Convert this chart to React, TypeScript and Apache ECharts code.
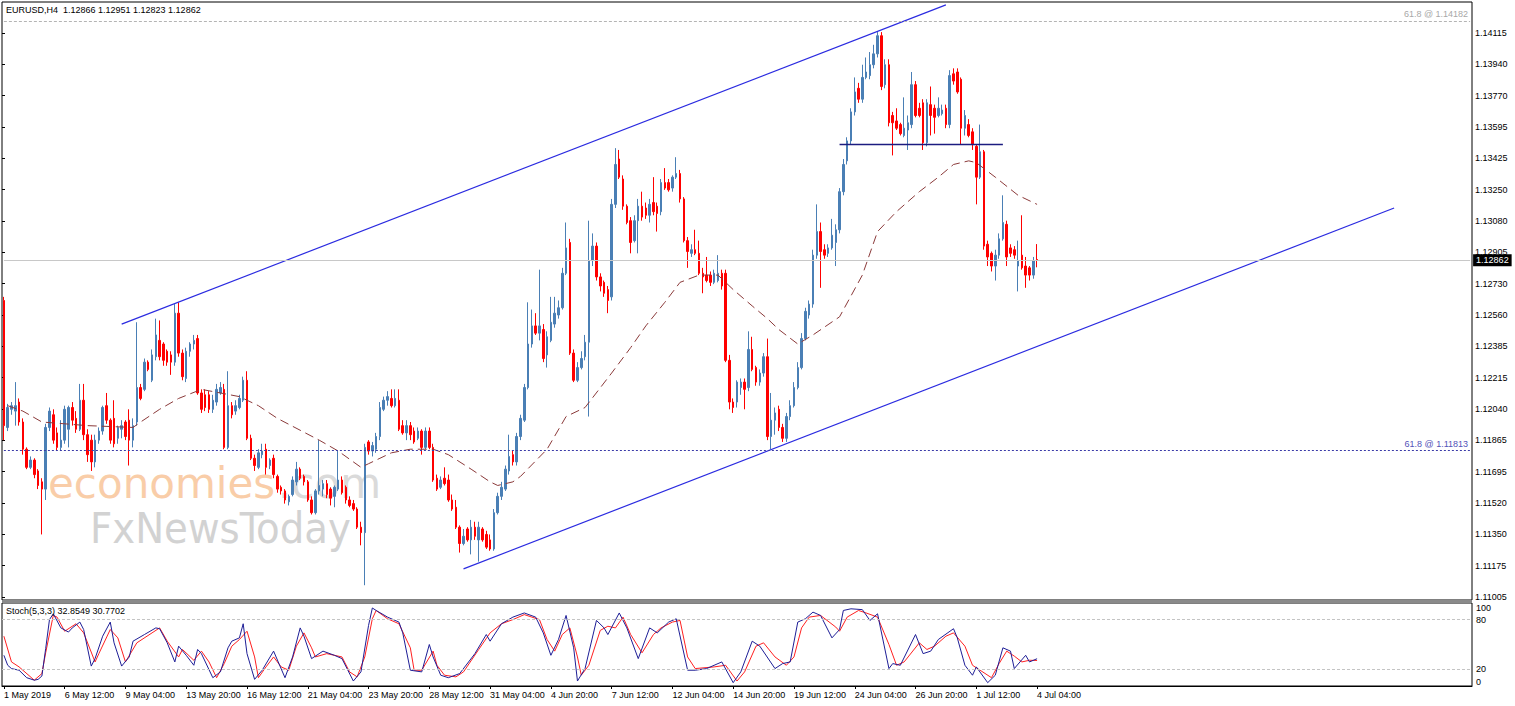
import React, { useEffect, useRef } from 'react';
import * as echarts from 'echarts';

// ---------- DATA ----------
// H4 candles, 1 May 2019 20:00 .. 4 Jul 2019 04:00 : [open, close, low, high]
const BARS: number[][] = [
  [1.1264,1.1195,1.1187,1.1266],[1.1194,1.1205,1.1192,1.1207],[1.1204,1.1206,1.1201,1.1208],[1.1203,1.1206,1.1195,1.1219],
  [1.1208,1.1197,1.1195,1.1210],[1.1197,1.1182,1.1179,1.1199],[1.1182,1.1172,1.1171,1.1183],[1.1172,1.1176,1.1171,1.1178],
  [1.1176,1.1168,1.1166,1.1177],[1.1170,1.1162,1.1160,1.1171],[1.1164,1.1160,1.1135,1.1166],[1.1160,1.1194,1.1154,1.1196],
  [1.1194,1.1203,1.1192,1.1205],[1.1201,1.1187,1.1185,1.1204],[1.1191,1.1183,1.1181,1.1194],[1.1183,1.1187,1.1181,1.1198],
  [1.1187,1.1204,1.1185,1.1206],[1.1193,1.1205,1.1183,1.1206],[1.1205,1.1198,1.1195,1.1208],[1.1199,1.1193,1.1191,1.1203],
  [1.1193,1.1209,1.1192,1.1218],[1.1209,1.1190,1.1187,1.1218],[1.1190,1.1179,1.1175,1.1193],[1.1187,1.1175,1.1170,1.1190],
  [1.1175,1.1187,1.1172,1.1190],[1.1187,1.1192,1.1185,1.1194],[1.1192,1.1205,1.1190,1.1206],[1.1206,1.1198,1.1196,1.1213],
  [1.1198,1.1187,1.1185,1.1199],[1.1199,1.1185,1.1183,1.1209],[1.1188,1.1194,1.1185,1.1195],[1.1193,1.1195,1.1188,1.1198],
  [1.1197,1.1189,1.1187,1.1198],[1.1198,1.1187,1.1173,1.1204],[1.1187,1.1195,1.1183,1.1199],[1.1197,1.1216,1.1195,1.1252],
  [1.1216,1.1210,1.1209,1.1218],[1.1215,1.1230,1.1214,1.1232],[1.1230,1.1226,1.1225,1.1231],[1.1220,1.1234,1.1219,1.1237],
  [1.1233,1.1245,1.1231,1.1254],[1.1242,1.1233,1.1231,1.1253],[1.1240,1.1231,1.1228,1.1241],[1.1236,1.1230,1.1228,1.1237],
  [1.1234,1.1230,1.1223,1.1236],[1.1230,1.1257,1.1228,1.1262],[1.1257,1.1235,1.1233,1.1263],[1.1235,1.1222,1.1220,1.1237],
  [1.1221,1.1236,1.1219,1.1238],[1.1236,1.1240,1.1233,1.1241],[1.1240,1.1242,1.1237,1.1245],[1.1243,1.1213,1.1212,1.1245],
  [1.1213,1.1204,1.1202,1.1215],[1.1212,1.1205,1.1203,1.1215],[1.1212,1.1204,1.1202,1.1214],[1.1204,1.1209,1.1202,1.1212],
  [1.1208,1.1215,1.1206,1.1218],[1.1213,1.1216,1.1212,1.1219],[1.1215,1.1183,1.1182,1.1218],[1.1183,1.1206,1.1182,1.1225],
  [1.1206,1.1201,1.1199,1.1208],[1.1203,1.1206,1.1201,1.1209],[1.1205,1.1210,1.1204,1.1212],[1.1209,1.1220,1.1208,1.1222],
  [1.1220,1.1188,1.1187,1.1225],[1.1188,1.1177,1.1176,1.1190],[1.1177,1.1173,1.1170,1.1179],[1.1172,1.1180,1.1171,1.1182],
  [1.1179,1.1181,1.1177,1.1185],[1.1182,1.1172,1.1168,1.1185],[1.1173,1.1176,1.1171,1.1177],[1.1177,1.1168,1.1166,1.1179],
  [1.1167,1.1160,1.1158,1.1168],[1.1161,1.1159,1.1157,1.1162],[1.1159,1.1154,1.1152,1.1160],[1.1153,1.1156,1.1151,1.1157],
  [1.1157,1.1165,1.1156,1.1167],[1.1164,1.1171,1.1162,1.1175],[1.1171,1.1166,1.1165,1.1172],[1.1167,1.1164,1.1162,1.1168],
  [1.1164,1.1154,1.1153,1.1165],[1.1154,1.1147,1.1146,1.1156],[1.1147,1.1159,1.1146,1.1160],[1.1159,1.1162,1.1157,1.1187],
  [1.1160,1.1163,1.1156,1.1165],[1.1163,1.1157,1.1155,1.1165],[1.1160,1.1155,1.1151,1.1161],[1.1156,1.1161,1.1150,1.1162],
  [1.1160,1.1165,1.1159,1.1181],[1.1165,1.1158,1.1157,1.1167],[1.1161,1.1154,1.1152,1.1162],[1.1154,1.1151,1.1150,1.1156],
  [1.1152,1.1149,1.1148,1.1154],[1.1149,1.1139,1.1138,1.1150],[1.1139,1.1136,1.1129,1.1142],[1.1136,1.1183,1.1107,1.1185],
  [1.1186,1.1181,1.1179,1.1187],[1.1181,1.1184,1.1178,1.1186],[1.1182,1.1189,1.1180,1.1191],[1.1189,1.1205,1.1187,1.1208],
  [1.1204,1.1209,1.1203,1.1211],[1.1209,1.1211,1.1206,1.1214],[1.1210,1.1206,1.1205,1.1215],[1.1206,1.1210,1.1205,1.1215],
  [1.1209,1.1193,1.1192,1.1215],[1.1195,1.1191,1.1190,1.1198],[1.1191,1.1195,1.1187,1.1198],[1.1195,1.1190,1.1187,1.1197],
  [1.1192,1.1186,1.1185,1.1194],[1.1188,1.1192,1.1187,1.1194],[1.1192,1.1183,1.1179,1.1193],[1.1183,1.1192,1.1182,1.1194],
  [1.1192,1.1183,1.1182,1.1194],[1.1183,1.1165,1.1164,1.1185],[1.1166,1.1160,1.1159,1.1168],[1.1161,1.1165,1.1160,1.1167],
  [1.1166,1.1163,1.1162,1.1172],[1.1165,1.1154,1.1153,1.1168],[1.1154,1.1149,1.1148,1.1157],[1.1150,1.1139,1.1138,1.1154],
  [1.1139,1.1130,1.1125,1.1140],[1.1130,1.1134,1.1129,1.1138],[1.1138,1.1132,1.1131,1.1139],[1.1132,1.1139,1.1124,1.1143],
  [1.1139,1.1134,1.1132,1.1142],[1.1132,1.1139,1.1120,1.1142],[1.1138,1.1132,1.1131,1.1139],[1.1135,1.1128,1.1127,1.1137],
  [1.1132,1.1127,1.1126,1.1135],[1.1127,1.1147,1.1126,1.1149],[1.1147,1.1156,1.1146,1.1158],[1.1156,1.1161,1.1154,1.1164],
  [1.1160,1.1171,1.1159,1.1173],[1.1170,1.1178,1.1168,1.1190],[1.1179,1.1175,1.1173,1.1181],[1.1175,1.1189,1.1173,1.1191],
  [1.1189,1.1199,1.1187,1.1201],[1.1198,1.1216,1.1197,1.1218],[1.1216,1.1240,1.1215,1.1263],[1.1240,1.1250,1.1238,1.1259],
  [1.1250,1.1246,1.1245,1.1257],[1.1246,1.1250,1.1242,1.1281],[1.1248,1.1232,1.1230,1.1251],[1.1234,1.1244,1.1227,1.1247],
  [1.1242,1.1252,1.1241,1.1266],[1.1251,1.1257,1.1249,1.1266],[1.1256,1.1260,1.1254,1.1264],[1.1260,1.1279,1.1259,1.1282],
  [1.1279,1.1293,1.1278,1.1307],[1.1296,1.1235,1.1234,1.1298],[1.1235,1.1220,1.1219,1.1237],[1.1220,1.1227,1.1219,1.1230],
  [1.1227,1.1232,1.1226,1.1236],[1.1233,1.1241,1.1231,1.1245],[1.1241,1.1286,1.1200,1.1308],[1.1286,1.1294,1.1283,1.1301],
  [1.1294,1.1277,1.1275,1.1296],[1.1277,1.1272,1.1269,1.1279],[1.1274,1.1268,1.1266,1.1275],[1.1270,1.1264,1.1257,1.1272],
  [1.1266,1.1317,1.1264,1.1320],[1.1317,1.1339,1.1315,1.1348],[1.1342,1.1332,1.1331,1.1347],[1.1331,1.1316,1.1314,1.1333],
  [1.1316,1.1307,1.1306,1.1317],[1.1308,1.1296,1.1290,1.1310],[1.1297,1.1308,1.1296,1.1311],[1.1308,1.1316,1.1290,1.1320],
  [1.1316,1.1310,1.1308,1.1324],[1.1315,1.1311,1.1309,1.1318],[1.1311,1.1317,1.1307,1.1320],[1.1318,1.1313,1.1311,1.1332],
  [1.1316,1.1312,1.1302,1.1318],[1.1313,1.1329,1.1311,1.1331],[1.1329,1.1326,1.1325,1.1337],[1.1329,1.1325,1.1324,1.1331],
  [1.1326,1.1332,1.1324,1.1333],[1.1332,1.1334,1.1331,1.1343],[1.1334,1.1320,1.1318,1.1336],[1.1320,1.1297,1.1296,1.1321],
  [1.1297,1.1291,1.1282,1.1299],[1.1290,1.1292,1.1288,1.1295],[1.1292,1.1290,1.1289,1.1303],[1.1290,1.1279,1.1278,1.1297],
  [1.1279,1.1277,1.1268,1.1282],[1.1278,1.1275,1.1274,1.1288],[1.1278,1.1274,1.1272,1.1280],[1.1274,1.1279,1.1273,1.1281],
  [1.1275,1.1279,1.1274,1.1289],[1.1279,1.1272,1.1270,1.1281],[1.1279,1.1231,1.1230,1.1281],[1.1231,1.1208,1.1204,1.1234],
  [1.1208,1.1205,1.1202,1.1210],[1.1208,1.1219,1.1205,1.1220],[1.1216,1.1219,1.1212,1.1221],[1.1219,1.1215,1.1204,1.1221],
  [1.1216,1.1237,1.1214,1.1247],[1.1237,1.1226,1.1225,1.1244],[1.1227,1.1219,1.1217,1.1228],[1.1219,1.1224,1.1217,1.1226],
  [1.1224,1.1233,1.1222,1.1235],[1.1233,1.1189,1.1187,1.1243],[1.1189,1.1198,1.1182,1.1213],[1.1198,1.1202,1.1190,1.1205],
  [1.1204,1.1194,1.1192,1.1206],[1.1194,1.1188,1.1186,1.1196],[1.1188,1.1200,1.1186,1.1202],[1.1200,1.1206,1.1198,1.1209],
  [1.1206,1.1216,1.1205,1.1219],[1.1216,1.1227,1.1215,1.1230],[1.1227,1.1243,1.1226,1.1246],[1.1243,1.1258,1.1242,1.1260],
  [1.1256,1.1262,1.1254,1.1264],[1.1262,1.1289,1.1260,1.1292],[1.1289,1.1302,1.1287,1.1317],[1.1302,1.1291,1.1271,1.1307],
  [1.1292,1.1289,1.1287,1.1295],[1.1290,1.1293,1.1288,1.1295],[1.1293,1.1300,1.1292,1.1309],[1.1296,1.1303,1.1283,1.1306],
  [1.1303,1.1324,1.1301,1.1326],[1.1324,1.1339,1.1322,1.1342],[1.1341,1.1352,1.1339,1.1354],[1.1352,1.1368,1.1350,1.1370],
  [1.1368,1.1379,1.1366,1.1387],[1.1381,1.1375,1.1373,1.1384],[1.1375,1.1387,1.1373,1.1394],[1.1387,1.1390,1.1386,1.1398],
  [1.1388,1.1394,1.1386,1.1401],[1.1394,1.1400,1.1392,1.1405],[1.1400,1.1410,1.1398,1.1412],[1.1410,1.1382,1.1380,1.1412],
  [1.1383,1.1394,1.1381,1.1397],[1.1394,1.1362,1.1360,1.1397],[1.1366,1.1362,1.1344,1.1368],[1.1363,1.1359,1.1358,1.1370],
  [1.1361,1.1356,1.1355,1.1362],[1.1355,1.1359,1.1354,1.1376],[1.1358,1.1362,1.1347,1.1366],[1.1361,1.1383,1.1359,1.1390],
  [1.1383,1.1366,1.1365,1.1385],[1.1370,1.1366,1.1365,1.1373],[1.1373,1.1351,1.1347,1.1375],[1.1351,1.1373,1.1349,1.1375],
  [1.1372,1.1366,1.1355,1.1382],[1.1370,1.1365,1.1356,1.1372],[1.1366,1.1370,1.1365,1.1376],[1.1367,1.1369,1.1366,1.1372],
  [1.1370,1.1361,1.1359,1.1372],[1.1361,1.1388,1.1359,1.1391],[1.1389,1.1385,1.1383,1.1392],[1.1390,1.1379,1.1378,1.1392],
  [1.1386,1.1359,1.1350,1.1387],[1.1359,1.1366,1.1355,1.1369],[1.1361,1.1355,1.1354,1.1364],[1.1357,1.1350,1.1347,1.1359],
  [1.1349,1.1332,1.1317,1.1350],[1.1332,1.1346,1.1331,1.1361],[1.1346,1.1294,1.1292,1.1347],[1.1295,1.1288,1.1283,1.1297],
  [1.1290,1.1283,1.1280,1.1291],[1.1283,1.1289,1.1275,1.1292],[1.1289,1.1298,1.1287,1.1301],[1.1298,1.1307,1.1297,1.1322],
  [1.1306,1.1288,1.1283,1.1308],[1.1293,1.1290,1.1288,1.1295],[1.1292,1.1289,1.1287,1.1294],[1.1283,1.1286,1.1269,1.1297],
  [1.1289,1.1282,1.1281,1.1311],[1.1283,1.1278,1.1271,1.1288],[1.1282,1.1278,1.1275,1.1283],[1.1278,1.1286,1.1276,1.1288],
  [1.12866,1.12862,1.12823,1.12951],
];

// dashed moving average, read at sample bars: [bar index, price]
const MA_POINTS: number[][] = [
  [1,1.1206],[5,1.1203],[10,1.1197],[22,1.1195],[34,1.1194],[36,1.1197],[41,1.1204],[46,1.1210],[52,1.1215],[62,1.1211],
  [67,1.1206],[72,1.1199],[83,1.1187],[88,1.1181],[94,1.1172],[96,1.1174],[99,1.1177],[102,1.1180],[107,1.1182],[113,1.1182],
  [117,1.1179],[123,1.1171],[128,1.1164],[130,1.1162],[134,1.1164],[136,1.1167],[143,1.1182],[148,1.1200],[153,1.1205],
  [160,1.1224],[165,1.1238],[169,1.1250],[174,1.1263],[178,1.1274],[183,1.1278],[188,1.1278],[192,1.1270],[197,1.1261],
  [201,1.1254],[204,1.1248],[209,1.1240],[213,1.1245],[220,1.1255],[226,1.1278],[230,1.1302],[235,1.1313],[241,1.1324],
  [246,1.1332],[250,1.1339],[254,1.1341],[256,1.1340],[261,1.1332],[267,1.1322],[272,1.1317],
];

// Stochastic(5,3,3): [bar index, value]
const STOCH_MAIN: number[][] = [
  [0,37],[1,25],[2,21],[4,19],[6,10],[8,7],[9,8],[10,12],[11,45],[12,80],[13,87],[15,70],[17,65],[18,70],[20,77],[21,68],
  [23,24],[24,33],[26,60],[28,77],[29,52],[31,24],[33,35],[34,54],[37,62],[40,70],[41,69],[43,52],[45,29],[46,48],[48,37],
  [50,25],[51,44],[52,39],[55,10],[57,17],[59,46],[60,54],[62,58],[63,75],[64,39],[66,8],[68,19],[71,42],[74,10],[76,35],
  [78,70],[79,60],[81,33],[84,42],[87,37],[89,33],[92,6],[94,17],[96,73],[97,94],[98,91],[101,83],[104,77],[105,64],
  [107,19],[110,17],[112,50],[113,35],[115,13],[117,10],[120,15],[124,39],[127,62],[128,54],[131,75],[134,83],[137,88],
  [140,83],[142,64],[144,37],[146,56],[148,85],[150,46],[151,6],[153,21],[156,79],[158,70],[159,62],[162,88],[164,70],
  [167,33],[170,70],[172,64],[175,77],[177,81],[180,19],[182,19],[185,21],[189,29],[192,4],[194,17],[197,54],[199,48],
  [203,21],[205,27],[207,29],[209,77],[211,81],[213,89],[215,85],[218,58],[220,68],[221,91],[223,93],[226,92],[228,79],
  [230,87],[233,21],[234,27],[236,25],[240,62],[242,39],[244,42],[246,56],[250,69],[251,58],[253,25],[255,13],[256,23],
  [259,4],[261,13],[263,46],[265,42],[266,21],[269,37],[270,29],[272,32.8549],
];
const STOCH_SIGNAL: number[][] = [
  [0,60],[2,29],[4,23],[8,7],[10,15],[11,40],[13,85],[14,83],[16,66],[19,75],[21,64],[24,29],[25,39],[28,68],[30,58],
  [32,29],[35,52],[39,64],[41,70],[43,54],[46,35],[47,44],[50,31],[52,42],[54,29],[56,10],[58,27],[60,48],[62,56],[64,66],
  [66,35],[67,10],[69,23],[71,35],[73,23],[75,19],[77,48],[79,64],[81,46],[82,35],[85,39],[89,35],[91,17],[93,11],[95,35],
  [97,81],[98,91],[101,81],[104,75],[107,46],[108,19],[110,19],[113,42],[114,25],[116,13],[119,11],[121,17],[125,44],
  [128,64],[131,75],[134,80],[137,86],[141,80],[143,56],[145,42],[147,62],[149,70],[151,35],[152,13],[154,25],[157,67],
  [159,72],[161,70],[163,83],[165,62],[168,40],[171,62],[173,70],[176,77],[178,79],[180,35],[182,21],[187,23],[190,25],
  [193,6],[195,17],[198,48],[200,52],[203,35],[206,25],[208,35],[210,70],[212,83],[215,85],[219,71],[220,66],[222,83],
  [225,91],[227,88],[230,83],[233,50],[235,25],[237,29],[241,52],[243,44],[245,48],[248,60],[250,64],[253,48],[255,25],
  [257,19],[260,10],[262,27],[264,42],[266,36],[268,29],[270,31],[272,30.7702],
];

const PRICE_TICK_LABELS = [
  '1.11005','1.11175','1.11350','1.11520','1.11695','1.11865','1.12040','1.12215','1.12385','1.12560',
  '1.12730','1.12905','1.13080','1.13250','1.13425','1.13595','1.13770','1.13940','1.14115',
];
const TIME_LABELS = [
  '1 May 2019','6 May 12:00','9 May 04:00','13 May 20:00','16 May 12:00','21 May 04:00','23 May 20:00','28 May 12:00',
  '31 May 04:00','4 Jun 20:00','7 Jun 12:00','12 Jun 04:00','14 Jun 20:00','19 Jun 12:00','24 Jun 04:00','26 Jun 20:00',
  '1 Jul 12:00','4 Jul 04:00',
];
const TIME_LABEL_EVERY = 16;
const STOCH_LEVELS = [20, 80];
const STOCH_AXIS_LABELS = [0, 20, 80, 100];

const SLOT_COUNT = 387;
const PRICE_MIN = 1.109885;
const PRICE_MAX = 1.142859;
const LAST = { open: 1.12866, high: 1.12951, low: 1.12823, close: 1.12862 };
const STOCH_LAST = { main: 32.8549, signal: 30.7702 };
const FIB_HIGH = 1.14182;
const FIB_LOW = 1.11813;
const CHANNEL_UPPER = [[31, 1.1251], [248, 1.1427]];
const CHANNEL_LOWER = [[121, 1.1116], [366, 1.1315]];
const NECKLINE = [[220, 1.1350], [263, 1.1350]];

const BULL = '#4a7fb5';
const BEAR = '#ff0000';
const FONT = "'Liberation Sans', Arial, sans-serif";

function levelLine(value: number, lineStyle: any, label: any) {
  return [
    { coord: [0, value], lineStyle, label },
    { coord: [SLOT_COUNT - 1, value] },
  ];
}

export default function App() {
  const ref = useRef<HTMLDivElement>(null);
  useEffect(() => {
    if (!ref.current) return;
    const chart = echarts.init(ref.current, undefined, { renderer: 'svg' });
    const categories = Array.from({ length: SLOT_COUNT }, (_, i) => String(i));
    const labelEvery = (index: number) =>
      index % TIME_LABEL_EVERY === 0 && index / TIME_LABEL_EVERY < TIME_LABELS.length;
    const tickStep = (1.14115 - 1.11005) / (PRICE_TICK_LABELS.length - 1);
    const labelAxisMax = (PRICE_MAX - 1.11005) / tickStep;

    const option: any = {
      animation: false,
      textStyle: { fontFamily: FONT },
      title: [
        {
          text: `EURUSD,H4  ${LAST.open.toFixed(5)} ${LAST.high.toFixed(5)} ${LAST.low.toFixed(5)} ${LAST.close.toFixed(5)}`,
          left: 6, top: 5, padding: 0,
          textStyle: { fontSize: 9, fontWeight: 'normal', color: '#000', fontFamily: FONT },
        },
        {
          text: `Stoch(5,3,3) ${STOCH_LAST.main.toFixed(4)} ${STOCH_LAST.signal.toFixed(4)}`,
          left: 6, top: 606, padding: 0,
          textStyle: { fontSize: 9, fontWeight: 'normal', color: '#000', fontFamily: FONT },
        },
      ],
      grid: [
        { left: 2, top: 2, width: 1470, height: 598, show: true, borderColor: '#000', borderWidth: 1, backgroundColor: 'transparent' },
        { left: 2, top: 603, width: 1470, height: 83, show: true, borderColor: '#000', borderWidth: 1, backgroundColor: 'transparent' },
        { left: 2, top: 2, width: 1470, height: 595, show: false },
      ],
      xAxis: [
        { type: 'category', gridIndex: 0, data: categories, boundaryGap: true, show: false },
        {
          type: 'category', gridIndex: 1, data: categories, boundaryGap: true,
          axisLine: { show: true, lineStyle: { color: '#000', width: 1 } },
          axisTick: { show: true, alignWithLabel: true, interval: labelEvery, length: 3, lineStyle: { color: '#000' } },
          axisLabel: {
            interval: labelEvery, align: 'left', margin: 4, fontSize: 9, color: '#000', fontFamily: FONT,
            formatter: (_v: string, index: number) => TIME_LABELS[index / TIME_LABEL_EVERY] ?? '',
          },
          splitLine: { show: false },
        },
        { type: 'value', gridIndex: 2, show: false, min: 0, max: 1 },
      ],
      yAxis: [
        { type: 'value', gridIndex: 0, min: PRICE_MIN, max: PRICE_MAX, show: false },
        {
          type: 'value', gridIndex: 1, position: 'right', min: 0, max: 100, interval: 20,
          axisLine: { show: false }, axisTick: { show: false }, splitLine: { show: false },
          axisLabel: {
            margin: 4, fontSize: 9, color: '#000', fontFamily: FONT,
            verticalAlignMaxLabel: 'top', verticalAlignMinLabel: 'bottom',
            formatter: (v: number) => (STOCH_AXIS_LABELS.includes(v) ? String(v) : ''),
          },
        },
        {
          type: 'value', gridIndex: 2, position: 'right', min: 0, max: labelAxisMax, interval: 1,
          axisLine: { show: false },
          axisTick: { show: true, length: 3, lineStyle: { color: '#000' } },
          splitLine: { show: false },
          axisLabel: {
            margin: 3, fontSize: 9, color: '#000', fontFamily: FONT, showMaxLabel: false,
            formatter: (v: number) => PRICE_TICK_LABELS[Math.round(v)] ?? '',
          },
        },
      ],
      graphic: [
        { type: 'rect', silent: true, z: 10, shape: { x: 2, y: 600, width: 1470, height: 3 }, style: { fill: '#8a8a8a' } },
        {
          type: 'text', silent: true, z: 0, x: 48, y: 483,
          style: { text: 'economies', fill: '#f9cda8', font: "42px 'DejaVu Sans'", verticalAlign: 'middle', align: 'left' },
        },
        {
          type: 'text', silent: true, z: 0, x: 278, y: 483,
          style: { text: '.com', fill: '#dadada', font: "42px 'DejaVu Sans'", verticalAlign: 'middle', align: 'left' },
        },
        {
          type: 'text', silent: true, z: 0, x: 90, y: 528,
          style: { text: 'FxNewsToday', fill: '#d2d2d2', font: "43px 'Liberation Sans Narrow', 'DejaVu Sans Condensed', sans-serif", verticalAlign: 'middle', align: 'left' },
        },
      ],
      series: [
        {
          type: 'candlestick', xAxisIndex: 0, yAxisIndex: 0, data: BARS, barWidth: 2, z: 3,
          itemStyle: { color: BULL, color0: BEAR, borderColor: BULL, borderColor0: BEAR, borderWidth: 1 },
          markLine: {
            silent: true, symbol: ['none', 'none'], animation: false,
            label: { show: false },
            data: [
              [
                { coord: CHANNEL_UPPER[0], lineStyle: { color: '#2b2be0', width: 1.2, type: 'solid' } },
                { coord: CHANNEL_UPPER[1] },
              ],
              [
                { coord: CHANNEL_LOWER[0], lineStyle: { color: '#2b2be0', width: 1.2, type: 'solid' } },
                { coord: CHANNEL_LOWER[1] },
              ],
              [
                { coord: NECKLINE[0], lineStyle: { color: '#1c1c80', width: 1.3, type: 'solid' } },
                { coord: NECKLINE[1] },
              ],
              levelLine(
                FIB_HIGH,
                { color: '#b4b4b4', width: 1, type: [3, 2] },
                { show: true, position: 'insideEndTop', formatter: `61.8 @ ${FIB_HIGH.toFixed(5)}`, color: '#a8a8a8', fontSize: 9, distance: 2, fontFamily: FONT },
              ),
              levelLine(
                FIB_LOW,
                { color: '#3a3aa8', width: 1, type: [2, 2] },
                { show: true, position: 'insideEndTop', formatter: `61.8 @ ${FIB_LOW.toFixed(5)}`, color: '#5252b8', fontSize: 9, distance: 2, fontFamily: FONT },
              ),
              levelLine(
                LAST.close,
                { color: '#c8c8c8', width: 1, type: 'solid' },
                {
                  show: true, position: 'end', formatter: LAST.close.toFixed(5), distance: 3,
                  backgroundColor: '#000', color: '#fff', padding: [2, 3, 1, 3], fontSize: 9, fontFamily: FONT,
                },
              ),
            ],
          },
        },
        {
          type: 'line', xAxisIndex: 0, yAxisIndex: 0, data: MA_POINTS, symbol: 'none', z: 4,
          lineStyle: { color: '#8b3a3a', width: 1, type: [9, 5] },
        },
        {
          type: 'line', xAxisIndex: 1, yAxisIndex: 1, data: STOCH_MAIN, symbol: 'none', z: 4,
          lineStyle: { color: '#1e1e96', width: 1 },
          markLine: {
            silent: true, symbol: ['none', 'none'], label: { show: false },
            lineStyle: { color: '#c4c4c4', width: 1, type: [3, 2] },
            data: STOCH_LEVELS.map((v) => ({ yAxis: v })),
          },
        },
        {
          type: 'line', xAxisIndex: 1, yAxisIndex: 1, data: STOCH_SIGNAL, symbol: 'none', z: 3,
          lineStyle: { color: '#ff2020', width: 1 },
        },
      ],
    };
    chart.setOption(option);
    return () => chart.dispose();
  }, []);
  return <div ref={ref} style={{ position: 'absolute', left: 0, top: 0, width: 1515, height: 706, background: '#fff' }} />;
}
